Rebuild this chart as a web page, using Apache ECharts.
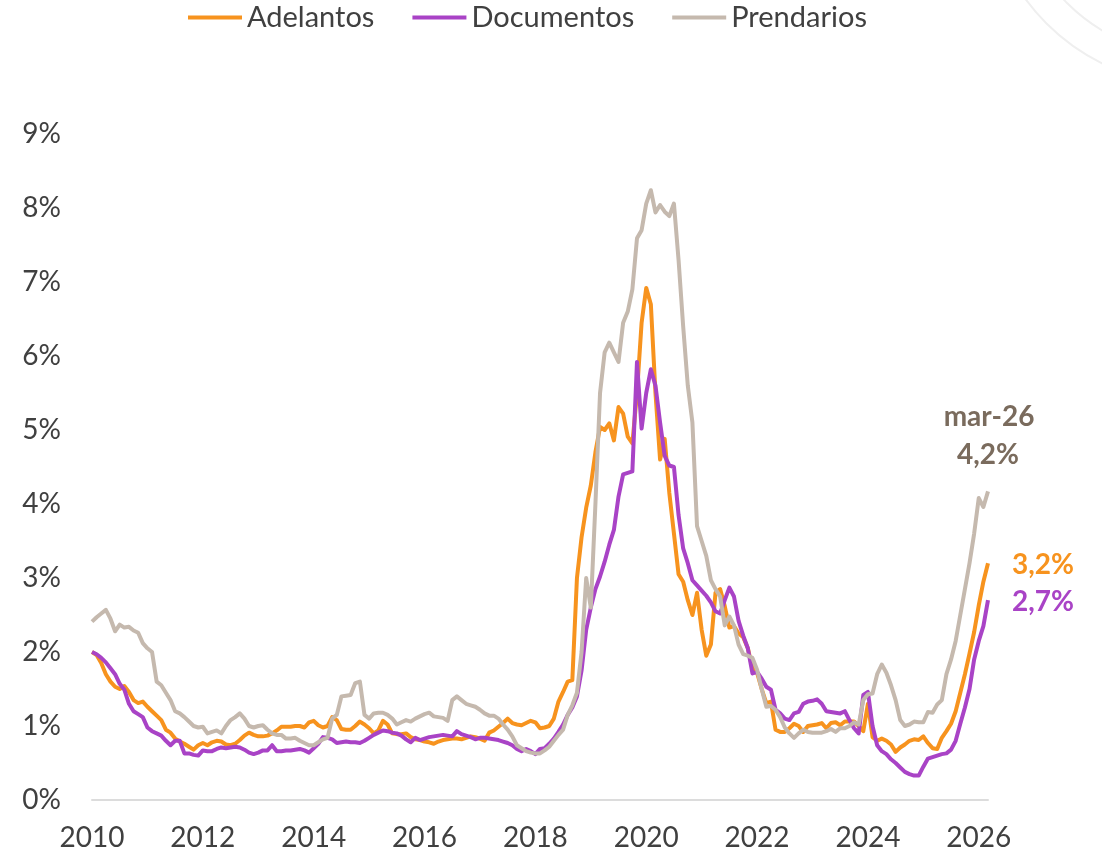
<!DOCTYPE html>
<html>
<head>
<meta charset="utf-8">
<title>Morosidad por línea</title>
<script src="https://cdn.jsdelivr.net/npm/echarts@6/dist/echarts.min.js"></script>
<style>
  html, body { margin: 0; padding: 0; background: #fff; }
  #chart { width: 1102px; height: 859px; }
</style>
</head>
<body>
<div id="chart"></div>
<script>
// meses ene-10 ... mar-26
const mesesCortos = ['ene','feb','mar','abr','may','jun','jul','ago','sep','oct','nov','dic'];
const meses = [];
for (let a = 10; a <= 26; a++) {
  for (let m = 0; m < 12; m++) {
    if (a === 26 && m > 2) break;
    meses.push(mesesCortos[m] + '-' + a);
  }
}

// valores en %, una fila por año
const adelantos = [
  2.0, 1.96, 1.85, 1.7, 1.6, 1.53, 1.5, 1.54, 1.46, 1.35, 1.31, 1.33,
  1.26, 1.2, 1.14, 1.08, 0.95, 0.91, 0.83, 0.79, 0.76, 0.72, 0.68, 0.74,
  0.77, 0.74, 0.78, 0.8, 0.79, 0.75, 0.74, 0.76, 0.81, 0.87, 0.91, 0.88,
  0.86, 0.86, 0.87, 0.9, 0.94, 0.99, 0.99, 0.99, 1.0, 1.0, 0.98, 1.05,
  1.07, 1.01, 0.98, 1.0, 1.12, 1.08, 0.96, 0.95, 0.95, 1.0, 1.06, 1.02,
  0.97, 0.9, 0.94, 1.07, 1.02, 0.9, 0.89, 0.89, 0.9, 0.85, 0.82, 0.81,
  0.79, 0.78, 0.76, 0.79, 0.81, 0.82, 0.83, 0.83, 0.82, 0.84, 0.86, 0.85,
  0.83, 0.8, 0.91, 0.94, 0.99, 1.04, 1.1, 1.04, 1.02, 1.01, 1.04, 1.07,
  1.05, 0.97, 0.98, 1.0, 1.1, 1.33, 1.46, 1.6, 1.62, 3.0, 3.55, 3.95,
  4.25, 4.7, 5.04, 5.0, 5.09, 4.86, 5.31, 5.22, 4.91, 4.82, 5.5, 6.45,
  6.92, 6.7, 5.5, 4.6, 4.88, 4.15, 3.6, 3.05, 2.95, 2.7, 2.5, 2.8,
  2.3, 1.95, 2.1, 2.8, 2.85, 2.62, 2.33, 2.35, 2.25, 2.2, 2.05, 1.78,
  1.72, 1.5, 1.31, 1.33, 0.95, 0.92, 0.92, 0.97, 1.03, 1.0, 0.92, 1.0,
  1.01, 1.02, 1.04, 0.97, 1.04, 1.05, 1.01, 1.06, 1.06, 1.06, 1.0, 0.93,
  1.3, 0.85, 0.8, 0.83, 0.8, 0.75, 0.65, 0.71, 0.75, 0.8, 0.82, 0.81,
  0.86, 0.77, 0.7, 0.69, 0.84, 0.93, 1.03, 1.2, 1.45, 1.7, 1.98, 2.27,
  2.63, 2.95, 3.2
];
const documentos = [
  2.0, 1.97, 1.92, 1.86, 1.78, 1.7, 1.57, 1.49, 1.3, 1.2, 1.16, 1.12,
  0.98, 0.93, 0.9, 0.87, 0.8, 0.74, 0.8, 0.8, 0.63, 0.63, 0.61, 0.6,
  0.67, 0.66, 0.66, 0.69, 0.71, 0.7, 0.71, 0.72, 0.71, 0.68, 0.64, 0.62,
  0.64, 0.67, 0.67, 0.74, 0.66, 0.66, 0.67, 0.67, 0.68, 0.69, 0.67, 0.64,
  0.7, 0.76, 0.85, 0.84, 0.82, 0.77, 0.78, 0.79, 0.78, 0.78, 0.77, 0.8,
  0.84, 0.88, 0.91, 0.94, 0.93, 0.91, 0.9, 0.87, 0.82, 0.78, 0.84, 0.81,
  0.83, 0.85, 0.86, 0.87, 0.88, 0.87, 0.86, 0.93, 0.89, 0.87, 0.85, 0.82,
  0.84, 0.84, 0.83, 0.82, 0.81, 0.79, 0.77, 0.74, 0.69, 0.66, 0.69, 0.66,
  0.62, 0.69, 0.7, 0.76, 0.83, 0.92, 1.02, 1.15, 1.25, 1.4, 1.75, 2.3,
  2.6, 2.85, 3.02, 3.22, 3.45, 3.65, 4.1, 4.4, 4.42, 4.44, 5.92, 5.02,
  5.5, 5.82, 5.6, 5.1, 4.65, 4.52, 4.5, 3.85, 3.4, 3.2, 2.97, 2.9,
  2.83, 2.76, 2.67, 2.55, 2.52, 2.7, 2.87, 2.75, 2.42, 2.22, 2.05, 1.71,
  1.73, 1.64, 1.53, 1.49, 1.22, 1.17, 1.1, 1.08, 1.17, 1.19, 1.3, 1.33,
  1.34, 1.36, 1.3, 1.2, 1.19, 1.18, 1.17, 1.2, 1.08, 0.97, 0.9, 1.42,
  1.46, 1.0, 0.74, 0.66, 0.62, 0.55, 0.5, 0.44, 0.38, 0.35, 0.33, 0.33,
  0.45, 0.56, 0.58, 0.6, 0.62, 0.63, 0.68, 0.8, 1.03, 1.25, 1.5, 1.9,
  2.15, 2.35, 2.7
];
const prendarios = [
  2.41, 2.47, 2.52, 2.57, 2.45, 2.28, 2.37, 2.33, 2.34, 2.29, 2.26, 2.12,
  2.05, 2.0, 1.6, 1.55, 1.45, 1.35, 1.2, 1.17, 1.12, 1.06, 1.0, 0.98,
  0.99, 0.9, 0.92, 0.94, 0.9, 1.0, 1.08, 1.12, 1.17, 1.1, 1.0, 0.98,
  1.0, 1.01, 0.95, 0.9, 0.88, 0.88, 0.83, 0.83, 0.84, 0.8, 0.77, 0.74,
  0.74, 0.78, 0.82, 0.84, 1.1, 1.15, 1.4, 1.41, 1.42, 1.58, 1.6, 1.15,
  1.1, 1.17, 1.18, 1.18, 1.15, 1.1, 1.02, 1.05, 1.08, 1.06, 1.1, 1.13,
  1.16, 1.18, 1.13, 1.12, 1.11, 1.07, 1.35, 1.4, 1.35, 1.3, 1.28, 1.26,
  1.22, 1.17, 1.14, 1.14, 1.1, 1.02, 0.95, 0.86, 0.74, 0.7, 0.66, 0.64,
  0.63, 0.63, 0.67, 0.72, 0.8, 0.88, 0.95, 1.15, 1.28, 1.45, 2.0, 3.0,
  2.6, 4.0, 5.5, 6.05, 6.18, 6.05, 5.92, 6.45, 6.6, 6.9, 7.59, 7.7,
  8.06, 8.24, 7.94, 8.04, 7.95, 7.89, 8.06, 7.3, 6.4, 5.6, 5.1, 3.7,
  3.5, 3.3, 2.97, 2.85, 2.75, 2.36, 2.48, 2.36, 2.1, 1.97, 1.95, 1.92,
  1.76, 1.5, 1.26, 1.27, 1.22, 1.12, 0.98, 0.9, 0.84, 0.9, 0.95, 0.92,
  0.91, 0.91, 0.91, 0.93, 0.96, 0.92, 0.97, 0.97, 1.0, 1.05, 1.02, 1.35,
  1.43, 1.44, 1.7, 1.83, 1.72, 1.55, 1.35, 1.08, 1.0, 1.02, 1.06, 1.05,
  1.05, 1.19, 1.18, 1.29, 1.35, 1.7, 1.9, 2.15, 2.5, 2.85, 3.2, 3.6,
  4.08, 3.96, 4.17
];

const series = [
  { name: 'Adelantos', data: adelantos, color: '#f7931e' },
  { name: 'Documentos', data: documentos, color: '#a943c6' },
  { name: 'Prendarios', data: prendarios, color: '#c5b9ae' }
];

const fuente = 'Lato, "Open Sans", sans-serif';
const fmtPct = v => v.toFixed(1).replace('.', ',') + '%';

let chart = echarts.init(document.getElementById('chart'));
let option = {
  animation: false,
  backgroundColor: '#fff',
  textStyle: { fontFamily: fuente },
  legend: {
    top: -2,
    left: 183,
    icon: 'rect',
    itemWidth: 54,
    itemHeight: 4,
    itemGap: 38,
    textStyle: { fontSize: 29, color: '#404040', fontFamily: fuente },
    data: series.map(s => s.name)
  },
  grid: { left: 92, right: 114, top: 134, bottom: 59, containLabel: false },
  xAxis: {
    type: 'category',
    data: meses,
    boundaryGap: false,
    axisLine: { lineStyle: { color: '#dcdcdc', width: 2 } },
    axisTick: { show: false },
    axisLabel: {
      interval: idx => idx % 24 === 0,
      formatter: v => '20' + v.split('-')[1],
      fontSize: 28,
      color: '#404040',
      margin: 24
    },
    splitLine: { show: false }
  },
  yAxis: {
    type: 'value',
    min: 0,
    max: 9,
    interval: 1,
    axisLine: { show: false },
    axisTick: { show: false },
    splitLine: { show: false },
    axisLabel: {
      formatter: v => v + '%',
      fontSize: 28,
      color: '#404040',
      margin: 31
    }
  },
  series: series.map(s => ({
    name: s.name,
    type: 'line',
    data: s.data,
    showSymbol: false,
    symbol: 'none',
    color: s.color,
    lineStyle: { width: 4, color: s.color, join: 'round' }
  }))
};
chart.setOption(option);

// etiquetas al final de cada serie
const ult = meses.length - 1;
const pOr = chart.convertToPixel({ seriesIndex: 0 }, [ult, adelantos[ult]]);
const pDo = chart.convertToPixel({ seriesIndex: 1 }, [ult, documentos[ult]]);
const pPr = chart.convertToPixel({ seriesIndex: 2 }, [ult, prendarios[ult]]);
const estilo = (color, align) => ({
  fill: color, fontSize: 28, fontWeight: 'bold', fontFamily: fuente,
  align: align, verticalAlign: 'middle'
});

chart.setOption({
  graphic: [
    // arcos decorativos arriba a la derecha
    { type: 'circle', silent: true, shape: { cx: 1195, cy: -125, r: 210 },
      style: { fill: 'none', stroke: '#efefef', lineWidth: 2 } },
    { type: 'circle', silent: true, shape: { cx: 1195, cy: -125, r: 181 },
      style: { fill: 'none', stroke: '#efefef', lineWidth: 2 } },
    { type: 'text', x: pPr[0] + 1, y: pPr[1] - 74,
      style: Object.assign({ text: meses[ult] }, estilo('#7a6b5d', 'center')) },
    { type: 'text', x: pPr[0], y: pPr[1] - 36,
      style: Object.assign({ text: fmtPct(prendarios[ult]) }, estilo('#7a6b5d', 'center')) },
    { type: 'text', x: pOr[0] + 24, y: pOr[1] + 2,
      style: Object.assign({ text: fmtPct(adelantos[ult]) }, estilo('#f7931e', 'left')) },
    { type: 'text', x: pDo[0] + 24, y: pDo[1] + 2,
      style: Object.assign({ text: fmtPct(documentos[ult]) }, estilo('#a943c6', 'left')) }
  ]
});
</script>
</body>
</html>
